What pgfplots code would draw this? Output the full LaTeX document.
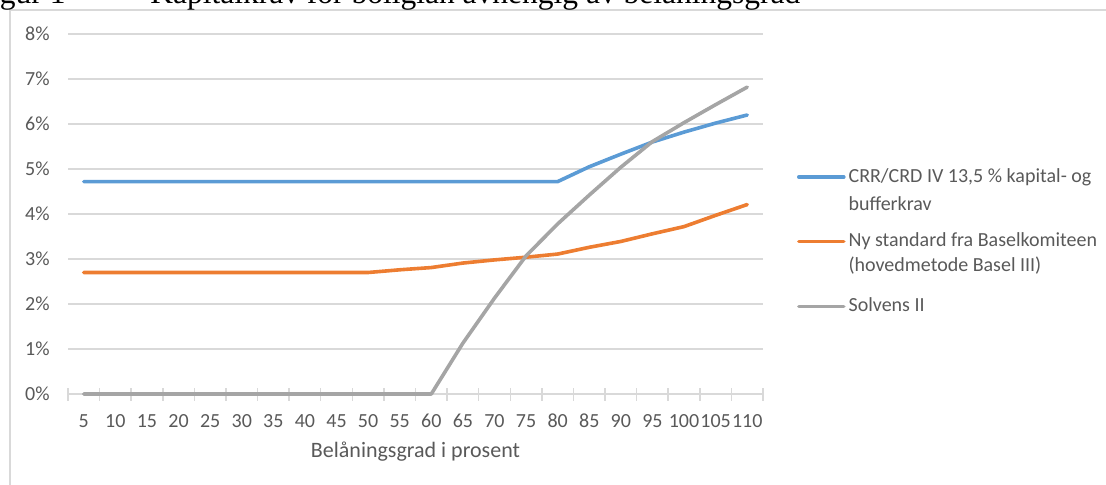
\documentclass[border=0pt]{standalone}
\usepackage{fontspec}
\setmainfont{Carlito}
\newfontfamily\titlefont{Liberation Serif}
\usepackage{pgfplots}
\pgfplotsset{compat=1.18}
\definecolor{cblue}{HTML}{5B9BD5}
\definecolor{corange}{HTML}{ED7D31}
\definecolor{cgray}{HTML}{A5A5A5}
\definecolor{gridgray}{HTML}{D9D9D9}
\definecolor{labelgray}{HTML}{595959}
\begin{document}
\begin{tikzpicture}
\useasboundingbox (0,0) rectangle (553pt,-242.5pt);
\clip (0,0) rectangle (553pt,-242.5pt);
% cropped frame and caption of the original page
\draw[gridgray, line width=1pt] (5pt,-5.25pt) rectangle (600pt,-300pt);
\node[font=\titlefont\fontsize{15.75}{18}\selectfont, anchor=base east, inner sep=0pt] at (33pt,-1.75pt) {Figur 1};
\node[font=\titlefont\fontsize{15.75}{18}\selectfont, anchor=base west, inner sep=0pt] at (75pt,-1.75pt) {Kapitalkrav for boliglån avhengig av belåningsgrad};
\begin{axis}[
  at={(34pt,-197pt)}, anchor=south west,
  scale only axis, width=347.5pt, height=180pt,
  xmin=-0.5, xmax=21.5, ymin=0, ymax=8,
  clip=false,
  axis x line*=bottom, axis y line*=left,
  y axis line style={draw=none},
  x axis line style={draw=gridgray, line width=0.75pt},
  xtick={0,...,21},
  xticklabels={5,10,15,20,25,30,35,40,45,50,55,60,65,70,75,80,85,90,95,100,105,110},
  minor xtick={-0.5,0.5,...,21.5},
  ytick={0,...,8},
  yticklabels={0\%,1\%,2\%,3\%,4\%,5\%,6\%,7\%,8\%},
  major tick length=0pt, minor tick length=6.5pt, tick align=center,
  tick style={draw=gridgray, line width=0.75pt},
  ymajorgrids, grid style={draw=gridgray, line width=0.75pt},
  tick label style={text=labelgray, font=\fontsize{10}{12}\selectfont, inner sep=0pt},
  xticklabel style={anchor=center, yshift=-13.5pt},
  yticklabel style={anchor=east, xshift=-9pt},
  xlabel={Belåningsgrad i prosent},
  xlabel style={at={(axis description cs:0.5,0)}, anchor=center, yshift=-29pt, text=labelgray, font=\fontsize{11}{13}\selectfont, inner sep=0pt},
  legend style={at={(1.0489,0.6394)}, anchor=north west, draw=none, fill=none,
    inner sep=0pt, outer sep=0pt, row sep=0pt, column sep=1.5pt,
    nodes={inner sep=0pt, text depth=0pt, text=labelgray, font=\fontsize{10}{13}\selectfont},
    cells={anchor=base west}},
  legend image code/.code={\draw[#1] (0pt,2.5pt) -- (22.5pt,2.5pt);},
  every axis plot/.append style={line width=1.8pt, line join=round, line cap=round},
]
\addplot[cblue] coordinates {
  (0,4.72) (1,4.72) (2,4.72) (3,4.72) (4,4.72) (5,4.72) (6,4.72) (7,4.72)
  (8,4.72) (9,4.72) (10,4.72) (11,4.72) (12,4.72) (13,4.72) (14,4.72) (15,4.72)
  (16,5.05) (17,5.33) (18,5.60) (19,5.82) (20,6.02) (21,6.20)};
\addlegendentry{\rule{0pt}{9.1pt}CRR/CRD IV 13,5 \% kapital- og}
\addlegendimage{empty legend}
\addlegendentry{\rule{0pt}{14pt}bufferkrav}
\addplot[corange] coordinates {
  (0,2.70) (1,2.70) (2,2.70) (3,2.70) (4,2.70) (5,2.70) (6,2.70) (7,2.70)
  (8,2.70) (9,2.70) (10,2.76) (11,2.81) (12,2.91) (13,2.98) (14,3.04) (15,3.11)
  (16,3.26) (17,3.39) (18,3.56) (19,3.72) (20,3.97) (21,4.21)};
\addlegendentry{\rule{0pt}{18.25pt}Ny standard fra Baselkomiteen}
\addlegendimage{empty legend}
\addlegendentry{\rule{0pt}{12.5pt}(hovedmetode Basel III)}
\addplot[cgray] coordinates {
  (0,0) (1,0) (2,0) (3,0) (4,0) (5,0) (6,0) (7,0)
  (8,0) (9,0) (10,0) (11,0) (12,1.13) (13,2.13) (14,3.07) (15,3.78)
  (16,4.42) (17,5.04) (18,5.61) (19,6.03) (20,6.43) (21,6.82)};
\addlegendentry{\rule{0pt}{20pt}Solvens II}
\end{axis}
\end{tikzpicture}
\end{document}
